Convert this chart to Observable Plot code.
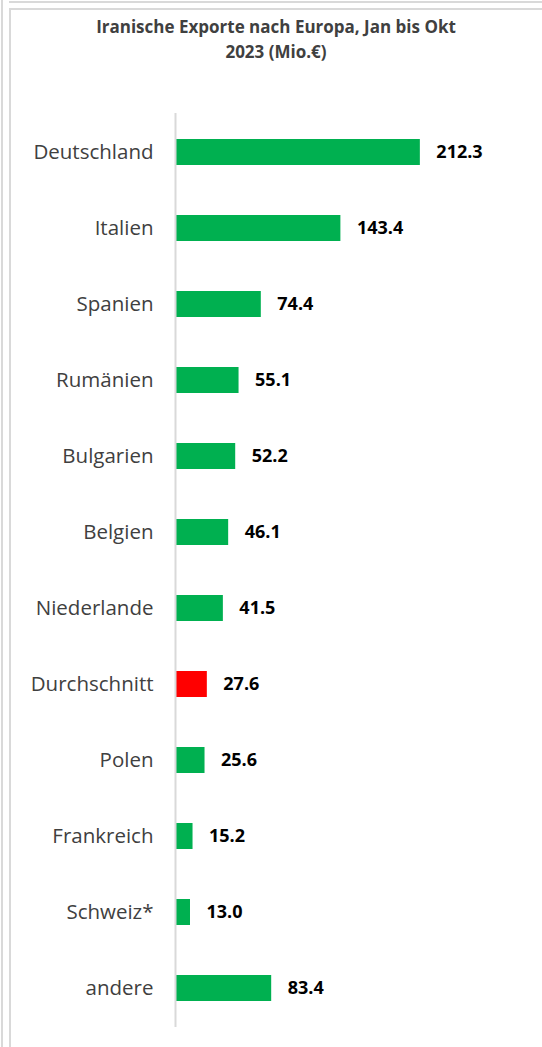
<!DOCTYPE html>
<html><head><meta charset="utf-8">
<script src="https://cdn.jsdelivr.net/npm/d3@7"></script>
<script src="https://cdn.jsdelivr.net/npm/@observablehq/plot@0.6"></script>
<style>
body{margin:0;background:#fff;font-family:"Open Sans",sans-serif;}
#wrap{position:relative;width:542px;height:1047px;overflow:hidden;}
.ln{position:absolute;background:#d9d9d9;}
#title{position:absolute;left:10px;width:532px;top:14px;text-align:center;font-weight:bold;font-size:17px;line-height:25px;color:#404040;}
#chart{position:absolute;left:0;top:70px;}
</style></head><body>
<div id="wrap">
<div class="ln" style="left:1px;top:0;width:2px;height:1047px"></div>
<div class="ln" style="left:9px;top:8px;width:2px;height:1047px"></div>
<div class="ln" style="left:9px;top:1px;width:533px;height:2px"></div>
<div class="ln" style="left:9px;top:8px;width:533px;height:2px"></div>
<div id="title">Iranische Exporte nach Europa, Jan bis Okt<br>2023 (Mio.€)</div>
<div id="chart"></div>
</div>
<script>
const countries = ["Deutschland","Italien","Spanien","Rumänien","Bulgarien","Belgien","Niederlande","Durchschnitt","Polen","Frankreich","Schweiz*","andere"];
const values = [212.3,143.4,74.4,55.1,52.2,46.1,41.5,27.6,25.6,15.2,13.0,83.4];
const highlight = "Durchschnitt";
const data = countries.map((c,i)=>({country:c, value:values[i]}));
const chart = Plot.plot({
  width:542, height:977,
  marginTop:43, marginBottom:20, marginLeft:175, marginRight:21,
  style:{fontFamily:"'Open Sans', sans-serif", background:"transparent"},
  x:{domain:[0,300], axis:null},
  y:{domain:countries, padding:0.66, paddingOuter:0.33, label:null},
  marks:[
    Plot.barX(data,{x:"value", y:"country", fill:d=>d.country===highlight?"#ff0000":"#00b050", inset:0}),
    Plot.ruleX([0],{stroke:"#d9d9d9", strokeWidth:2}),
    Plot.axisY({tickSize:0, tickPadding:22, fontSize:20.5, color:"#404040", label:null}),
    Plot.text(data,{x:"value", y:"country", text:d=>d.value.toFixed(1), dx:16, textAnchor:"start", fontWeight:"bold", fontSize:18, fill:"#000"})
  ]
});
document.getElementById("chart").appendChild(chart);
</script>
</body></html>
